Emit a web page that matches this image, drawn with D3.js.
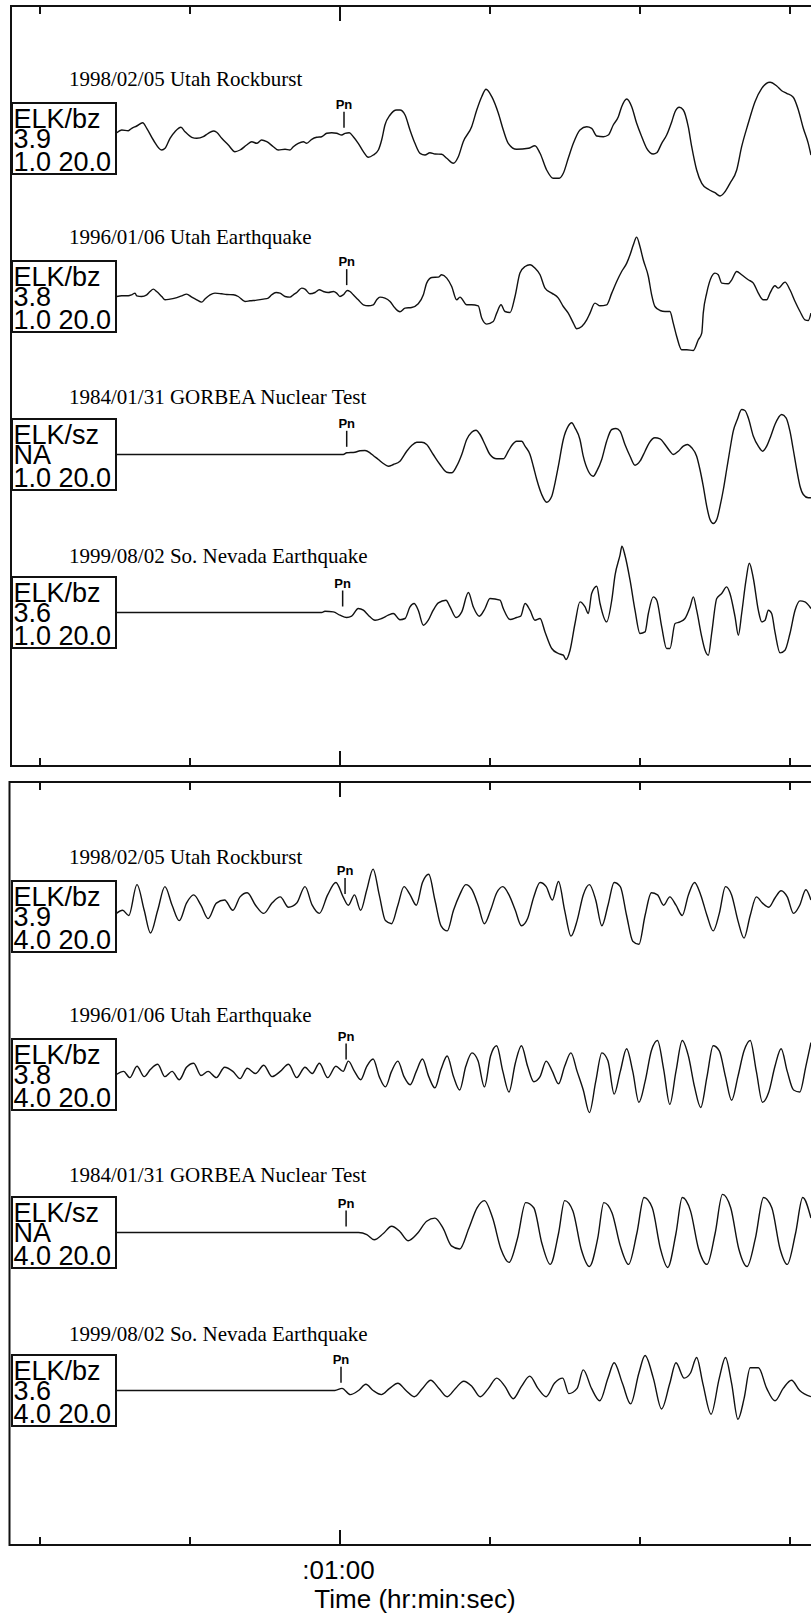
<!DOCTYPE html>
<html>
<head>
<meta charset="utf-8">
<script src="https://cdn.jsdelivr.net/npm/d3@7"></script>
<style>
  body { margin: 0; background: #fff; }
  svg { display: block; }
  .trace { fill: none; stroke: #111; stroke-width: 1.4; stroke-linejoin: round; }
  .frame { fill: none; stroke: #111; stroke-width: 2; }
  .tick line { stroke: #111; stroke-width: 2; }
  .box { fill: #fff; stroke: #111; stroke-width: 2; }
  .boxtxt { font-family: "Liberation Sans", Arial, sans-serif; font-size: 27px; fill: #000; }
  .title { font-family: "Liberation Serif", "Times New Roman", serif; font-size: 21px; fill: #000; }
  .pn { font-family: "Liberation Sans", Arial, sans-serif; font-size: 13px; font-weight: bold; fill: #000; }
  .axlabel { font-family: "Liberation Sans", Arial, sans-serif; font-size: 26px; fill: #000; }
</style>
</head>
<body>
<div id="chart"></div>
<script>
// ---- data: time in seconds after 00:01:00, amplitude in counts ----
const tickTimes = [-2, -1, 0, 1, 2, 3];
const majorTick = 0;
const tickLabel = ":01:00";
const axisTitle = "Time (hr:min:sec)";

const events = ["1998/02/05 Utah Rockburst", "1996/01/06 Utah Earthquake",
                "1984/01/31 GORBEA Nuclear Test", "1999/08/02 So. Nevada Earthquake"];
const stations = ["ELK/bz", "ELK/bz", "ELK/sz", "ELK/bz"];
const magnitudes = ["3.9", "3.8", "NA", "3.6"];
const filterBands = ["1.0 20.0", "4.0 20.0"];
const pnTimesLow = [0.030, 0.048, 0.048, 0.021];
const pnTimesHigh = [0.037, 0.044, 0.044, 0.010];

// 1.0-20.0 Hz band
const rockburstLow = [[-1.485,5.8],[-1.452,8.5],[-1.408,7.8],[-1.385,10.2],[-1.352,12.5],[-1.312,15.8],[-1.285,10.2],[-1.241,-1.5],[-1.185,-11.5],[-1.163,-9.8],[-1.130,0.2],[-1.097,6.8],[-1.057,11.2],[-1.030,6.8],[-0.985,1.2],[-0.952,0.2],[-0.908,1.8],[-0.875,5.2],[-0.841,7.5],[-0.819,6.2],[-0.785,0.2],[-0.741,-6.5],[-0.697,-13.2],[-0.663,-11.5],[-0.619,-6.5],[-0.585,-3.2],[-0.552,-4.8],[-0.519,-1.5],[-0.485,-3.2],[-0.441,-8.2],[-0.408,-11.5],[-0.363,-10.8],[-0.330,-11.5],[-0.308,-8.2],[-0.275,-4.8],[-0.241,-3.2],[-0.219,-4.8],[-0.185,-0.8],[-0.152,1.2],[-0.119,1.8],[-0.085,5.2],[-0.052,5.8],[-0.019,5.2],[0.015,3.5],[0.037,5.2],[0.065,5.8],[0.092,1.8],[0.125,-4.8],[0.159,-13.2],[0.192,-18.8],[0.225,-16.5],[0.259,-11.5],[0.281,-1.5],[0.303,13.5],[0.337,23.5],[0.381,28.5],[0.403,28.5],[0.437,23.5],[0.470,8.5],[0.503,-4.8],[0.537,-14.8],[0.570,-16.5],[0.603,-14.2],[0.637,-15.5],[0.681,-15.8],[0.715,-19.8],[0.759,-24.8],[0.792,-18.2],[0.825,-3.2],[0.881,11.8],[0.915,28.5],[0.948,41.8],[0.977,49.2],[1.015,41.8],[1.059,25.2],[1.092,8.5],[1.125,-4.8],[1.181,-10.8],[1.259,-9.8],[1.303,-7.2],[1.337,-14.8],[1.381,-31.5],[1.425,-39.8],[1.465,-39.8],[1.492,-34.8],[1.525,-19.8],[1.559,-4.8],[1.603,8.5],[1.648,11.8],[1.681,10.2],[1.715,2.5],[1.759,1.8],[1.792,3.5],[1.825,13.5],[1.859,21.8],[1.881,31.8],[1.915,39.5],[1.948,31.8],[1.981,15.2],[2.015,1.8],[2.048,-9.8],[2.092,-15.5],[2.115,-14.2],[2.148,-4.8],[2.181,3.5],[2.215,16.8],[2.237,26.8],[2.265,31.2],[2.292,28.5],[2.325,11.8],[2.348,-8.2],[2.381,-31.5],[2.415,-44.8],[2.459,-50.8],[2.503,-54.2],[2.537,-57.5],[2.570,-53.2],[2.603,-44.8],[2.648,-31.5],[2.681,-8.2],[2.725,15.2],[2.770,36.8],[2.815,50.2],[2.870,56.2],[2.915,52.5],[2.948,47.8],[2.981,45.2],[3.025,41.2],[3.059,28.5],[3.092,10.2],[3.125,-4.8],[3.143,-16.5]];

const quakeLow = [[-1.485,0],[-1.452,0.7],[-1.408,0.7],[-1.385,1.7],[-1.363,3.4],[-1.352,0.7],[-1.319,0],[-1.285,1.7],[-1.263,5],[-1.241,7.4],[-1.219,5],[-1.185,0],[-1.163,-3.3],[-1.130,-2.6],[-1.097,-1.6],[-1.052,0.7],[-1.019,2.4],[-0.985,-0.6],[-0.952,-3.3],[-0.919,-5.6],[-0.897,-2.6],[-0.863,1.7],[-0.830,3.4],[-0.785,2.7],[-0.752,2],[-0.708,1.7],[-0.675,0],[-0.630,-5],[-0.597,-4.3],[-0.552,-3.6],[-0.508,-2.6],[-0.475,-1.6],[-0.452,1.7],[-0.423,4],[-0.397,3.4],[-0.363,0],[-0.330,-0.6],[-0.308,1.7],[-0.285,4],[-0.252,8.4],[-0.230,7.4],[-0.197,2.7],[-0.163,4],[-0.135,6.7],[-0.108,5],[-0.075,4],[-0.041,5],[-0.019,3.4],[0.003,0],[0.025,1.7],[0.052,6],[0.070,5],[0.092,1.7],[0.125,-3.3],[0.159,-8.3],[0.192,-9.3],[0.225,-8.3],[0.248,-3.3],[0.270,-0.6],[0.303,-1.6],[0.337,-5],[0.370,-11.6],[0.403,-15.3],[0.437,-11.6],[0.481,-11],[0.525,-7.3],[0.559,1.7],[0.581,13.4],[0.615,19],[0.659,19.4],[0.681,21.7],[0.715,18.4],[0.748,10],[0.781,-3.3],[0.803,-0.6],[0.848,-8.3],[0.881,-8.3],[0.925,-9.3],[0.948,-21.6],[0.981,-27.6],[1.025,-25],[1.048,-16.6],[1.077,-8.3],[1.103,-15],[1.137,-16],[1.170,0],[1.203,23.4],[1.237,30],[1.270,31.7],[1.303,28.4],[1.337,21.7],[1.370,8.4],[1.415,3.4],[1.459,-1.6],[1.492,-10],[1.525,-16.6],[1.559,-26.6],[1.581,-32.3],[1.615,-30],[1.648,-23.3],[1.670,-16.6],[1.703,-6.6],[1.737,-9.3],[1.781,-8.3],[1.815,3.4],[1.848,15],[1.881,25],[1.915,33.4],[1.937,41.7],[1.959,51.7],[1.981,59.4],[2.003,50],[2.025,36.7],[2.059,20],[2.081,1.7],[2.103,-10],[2.137,-14],[2.170,-15],[2.203,-15],[2.225,-26.6],[2.248,-40],[2.281,-53.3],[2.315,-53.3],[2.359,-54],[2.392,-43.3],[2.415,-36.6],[2.425,-16.6],[2.448,3.4],[2.481,20],[2.503,23.4],[2.525,21.7],[2.548,13.4],[2.592,12.7],[2.615,16.7],[2.648,25],[2.681,21.7],[2.725,16.7],[2.759,13.4],[2.792,3.4],[2.825,-3.3],[2.848,-3.3],[2.870,3.4],[2.903,10.7],[2.925,8.4],[2.970,14.4],[3.003,6.7],[3.037,-5],[3.070,-15],[3.103,-23.3],[3.125,-24],[3.143,-16.6]];

const nuclearLow = [[-1.485,0],[0.025,0],[0.048,1.7],[0.103,2.3],[0.137,3.7],[0.170,4],[0.203,1.7],[0.225,-1],[0.259,-5],[0.292,-9],[0.325,-11.7],[0.359,-10],[0.403,-6.7],[0.448,3.3],[0.481,9],[0.515,12.3],[0.548,12.3],[0.581,10],[0.625,0],[0.670,-10],[0.715,-17.7],[0.748,-18.3],[0.781,-11.7],[0.815,0],[0.848,15],[0.881,22.3],[0.910,24.3],[0.937,20],[0.970,10],[1.003,0],[1.048,-4.3],[1.092,-4.3],[1.125,3.3],[1.148,9],[1.181,13.3],[1.215,13.3],[1.237,8.3],[1.270,0],[1.292,-11.7],[1.315,-25],[1.348,-40],[1.381,-47.7],[1.415,-41.7],[1.437,-28.3],[1.459,-11.7],[1.492,15],[1.525,28.3],[1.548,31.7],[1.570,26.7],[1.603,15],[1.625,-1.7],[1.659,-16.7],[1.692,-21.7],[1.715,-16.7],[1.748,-5],[1.781,13.3],[1.815,25],[1.843,26],[1.870,23.3],[1.903,10],[1.937,-1.7],[1.970,-10.7],[2.003,-6.7],[2.037,3.3],[2.065,11.7],[2.103,16.7],[2.137,15.7],[2.170,10],[2.203,3.3],[2.225,0],[2.259,3.3],[2.292,8.3],[2.319,10],[2.348,6.7],[2.381,-1.7],[2.403,-15],[2.425,-31.7],[2.448,-51.7],[2.470,-65],[2.492,-69],[2.515,-65],[2.537,-51.7],[2.559,-35],[2.581,-15],[2.603,5],[2.625,23.3],[2.652,35],[2.681,45],[2.703,44],[2.725,36.7],[2.759,18.3],[2.792,8.3],[2.821,3.3],[2.848,8.3],[2.875,18.3],[2.903,30],[2.948,40],[2.977,36.7],[3.003,23.3],[3.025,5],[3.048,-15],[3.070,-31.7],[3.092,-40],[3.125,-43.3],[3.143,-43.3]];

const nevadaLow = [[-1.485,0],[-0.119,0],[-0.097,1.3],[-0.041,0.6],[0.003,-2.7],[0.048,-5],[0.081,-3.7],[0.125,4],[0.159,2.3],[0.192,-2.7],[0.237,-7.7],[0.281,-6],[0.325,-2.7],[0.359,-1],[0.403,-7.2],[0.437,-6],[0.470,5.6],[0.497,9],[0.525,2.3],[0.559,-12.7],[0.592,-7.7],[0.625,2.3],[0.659,9.6],[0.710,12.3],[0.737,5.6],[0.777,-5],[0.815,0.6],[0.859,20],[0.892,5.6],[0.932,-3.7],[0.970,4],[1.003,14],[1.070,12.3],[1.092,4],[1.137,-7],[1.181,-5],[1.208,-3.7],[1.237,9],[1.270,2.3],[1.303,-7.7],[1.337,-6],[1.370,-19.4],[1.415,-36],[1.459,-41],[1.492,-42.7],[1.510,-47],[1.537,-37.7],[1.570,-11],[1.603,10.6],[1.637,5.6],[1.659,-1],[1.681,19],[1.715,26.3],[1.737,9],[1.781,-9.4],[1.815,12.3],[1.837,37.3],[1.870,57.3],[1.883,66.3],[1.903,57.3],[1.937,32.3],[1.970,2.3],[2.003,-21],[2.037,-19.4],[2.059,-1],[2.092,15.6],[2.115,12.3],[2.148,-14.4],[2.181,-36],[2.203,-36],[2.237,-11],[2.270,-9.4],[2.303,-6],[2.337,5.6],[2.359,15.6],[2.381,2.3],[2.415,-24.4],[2.437,-37.7],[2.459,-42.7],[2.481,-21],[2.515,14],[2.548,19],[2.581,25.6],[2.603,19],[2.637,-4.4],[2.659,-22.7],[2.681,-1],[2.710,32.3],[2.732,49.3],[2.759,34],[2.792,2.3],[2.815,-9.4],[2.837,-7.7],[2.859,2.3],[2.881,-1],[2.903,-19.4],[2.937,-40.4],[2.970,-37.7],[3.003,-21],[3.037,2.3],[3.070,11.6],[3.103,10.6],[3.143,4]];

// 4.0-20.0 Hz band
const rockburstHigh = [[-1.487,3.1],[-1.446,6.2],[-1.405,1],[-1.350,31.9],[-1.302,6.2],[-1.260,-16.5],[-1.212,6.2],[-1.164,29.9],[-1.116,11.3],[-1.068,-4.1],[-1.020,13.4],[-0.972,21.6],[-0.924,11.3],[-0.876,-2.1],[-0.821,13.4],[-0.766,16.5],[-0.711,6.2],[-0.663,19.6],[-0.615,23.7],[-0.560,11.3],[-0.505,3.1],[-0.450,13.4],[-0.395,19.6],[-0.340,9.3],[-0.285,13.4],[-0.230,29.9],[-0.182,11.3],[-0.134,3.1],[-0.079,21.6],[-0.024,34],[0.024,19.6],[0.059,11.3],[0.100,21.6],[0.141,6.2],[0.182,26.8],[0.224,47.4],[0.265,21.6],[0.306,-4.1],[0.347,-7.2],[0.389,11.3],[0.430,29.9],[0.471,21.6],[0.512,11.3],[0.553,34],[0.595,42.2],[0.636,16.5],[0.677,-9.3],[0.718,-14.4],[0.760,6.2],[0.801,21.6],[0.842,31.9],[0.883,26.8],[0.924,11.3],[0.966,-7.2],[1.007,6.2],[1.048,23.7],[1.089,29.9],[1.130,21.6],[1.172,6.2],[1.213,-9.3],[1.254,-2.1],[1.295,19.6],[1.337,34],[1.378,29.9],[1.419,16.5],[1.460,35],[1.501,6.2],[1.543,-19.6],[1.584,-4.1],[1.625,21.6],[1.666,31.9],[1.708,16.5],[1.749,-9.3],[1.790,11.3],[1.831,34],[1.872,29.9],[1.914,1],[1.955,-24.7],[1.996,-27.8],[2.037,1],[2.079,23.7],[2.120,21.6],[2.161,11.3],[2.202,19.6],[2.243,11.3],[2.285,1],[2.326,21.6],[2.367,34],[2.408,21.6],[2.450,1],[2.491,-14.4],[2.532,3.1],[2.573,29.9],[2.614,21.6],[2.656,-4.1],[2.697,-21.6],[2.738,1],[2.779,19.6],[2.820,13.4],[2.862,9.3],[2.903,18.5],[2.944,25.8],[2.985,19.6],[3.027,3.1],[3.068,11.3],[3.109,26.8],[3.143,16.5]];

const quakeHigh = [[-1.487,0],[-1.439,3.1],[-1.398,-3.1],[-1.350,8.2],[-1.302,-2.1],[-1.260,5.2],[-1.212,10.3],[-1.164,-2.1],[-1.116,3.1],[-1.068,-5.2],[-1.020,7.2],[-0.972,11.3],[-0.924,-1],[-0.876,3.1],[-0.821,-3.1],[-0.766,7.2],[-0.711,3.1],[-0.663,-4.1],[-0.615,6.2],[-0.560,1],[-0.505,9.3],[-0.450,-2.1],[-0.395,3.1],[-0.340,10.3],[-0.285,-3.1],[-0.230,7.2],[-0.182,1],[-0.134,11.3],[-0.079,-3.1],[-0.024,8.2],[0.024,3.1],[0.059,13.4],[0.100,3.1],[0.141,-5.2],[0.182,8.2],[0.224,15.5],[0.265,-2.1],[0.306,-12.4],[0.347,3.1],[0.389,13.4],[0.430,-2.1],[0.471,-10.3],[0.512,3.1],[0.553,15.5],[0.595,-2.1],[0.636,-13.4],[0.677,5.2],[0.718,18.5],[0.760,-2.1],[0.801,-15.5],[0.842,8.2],[0.883,21.6],[0.924,13.4],[0.966,-12.4],[1.007,18.5],[1.048,28.8],[1.089,3.1],[1.130,-17.5],[1.172,11.3],[1.213,28.8],[1.254,8.2],[1.295,-7.2],[1.337,-2.1],[1.378,13.4],[1.419,3.1],[1.460,-9.3],[1.501,8.2],[1.543,21.6],[1.584,3.1],[1.625,-15.5],[1.666,-38.1],[1.708,-7.2],[1.749,21.6],[1.790,13.4],[1.831,-19.6],[1.872,3.1],[1.914,25.8],[1.955,3.1],[1.996,-27.8],[2.037,-7.2],[2.079,23.7],[2.120,34],[2.161,5.2],[2.202,-29.9],[2.243,3.1],[2.285,34],[2.326,18.5],[2.367,-12.4],[2.408,-33],[2.450,-2.1],[2.491,28.8],[2.532,23.7],[2.573,-2.1],[2.614,-25.8],[2.656,-2.1],[2.697,23.7],[2.738,34],[2.779,3.1],[2.820,-27.8],[2.862,-17.5],[2.903,8.2],[2.944,25.8],[2.985,3.1],[3.027,-15.5],[3.068,-17.5],[3.109,8.2],[3.143,31.9]];

const nuclearHigh = [[-1.487,0],[0.127,0],[0.182,-2.1],[0.231,-7.2],[0.292,-1],[0.347,6.2],[0.402,1],[0.457,-8.2],[0.519,-1],[0.581,11.3],[0.636,14.4],[0.691,4.1],[0.746,-13.4],[0.801,-16.5],[0.862,4.1],[0.917,24.7],[0.966,31.9],[1.021,14.4],[1.076,-16.5],[1.130,-29.9],[1.186,-6.2],[1.241,29.9],[1.295,24.7],[1.350,-11.3],[1.405,-31.9],[1.460,-1],[1.501,31.9],[1.556,21.6],[1.611,-16.5],[1.666,-34],[1.721,-6.2],[1.762,29.9],[1.817,19.6],[1.872,-13.4],[1.927,-31.9],[1.982,-1],[2.030,35],[2.085,24.7],[2.140,-16.5],[2.188,-35],[2.243,-1],[2.285,35],[2.340,21.6],[2.394,-16.5],[2.450,-31.9],[2.504,-1],[2.553,38.1],[2.608,24.7],[2.662,-16.5],[2.717,-34],[2.772,-6.2],[2.827,35],[2.882,24.7],[2.937,-16.5],[2.985,-31.9],[3.040,-1],[3.088,35],[3.143,14.4]];

const nevadaHigh = [[-1.487,0],[-0.031,0],[0.017,2.1],[0.072,-4.1],[0.127,0],[0.176,6.2],[0.224,0],[0.279,-4.1],[0.334,2.1],[0.389,7.2],[0.443,0],[0.498,-6.2],[0.553,2.1],[0.608,10.3],[0.663,2.1],[0.718,-6.2],[0.773,2.1],[0.828,9.3],[0.883,4.1],[0.938,-6.2],[0.993,2.1],[1.048,12.4],[1.103,4.1],[1.158,-8.2],[1.213,4.1],[1.268,14.4],[1.323,2.1],[1.378,-6.2],[1.433,7.2],[1.488,12.4],[1.529,-3.1],[1.584,2.1],[1.625,20.6],[1.680,2.1],[1.735,-10.3],[1.790,12.4],[1.831,27.8],[1.886,7.2],[1.941,-13.4],[1.996,17.5],[2.037,35],[2.092,12.4],[2.147,-18.5],[2.202,7.2],[2.243,27.8],[2.298,12.4],[2.340,17.5],[2.381,33],[2.422,7.2],[2.477,-23.7],[2.532,12.4],[2.573,33],[2.614,7.2],[2.656,-28.8],[2.697,-8.2],[2.738,22.7],[2.793,22.7],[2.848,2.1],[2.903,-10.3],[2.958,2.1],[3.013,10.3],[3.068,0],[3.143,-6.2]];

const panelTraces = [
  [rockburstLow, quakeLow, nuclearLow, nevadaLow],
  [rockburstHigh, quakeHigh, nuclearHigh, nevadaHigh]
];
const panelPicks = [pnTimesLow, pnTimesHigh];

// ---- layout ----
const width = 811, height = 1615;
const panels = [
  { top: 6, bottom: 766, left: 11, base: 132.5 },
  { top: 782, bottom: 1545, left: 9.5, base: 134.5 }
];
const traceGap = 158;
const titleGaps = [52.5, 52.5, 50.5, 50];

const svg = d3.select("#chart").append("svg")
  .attr("width", width).attr("height", height);

// time scale: 150 px per second
const x = d3.scaleLinear().domain([-2.19, 3.1433]).range([11, 811]);

const line = d3.line().curve(d3.curveMonotoneX);

panels.forEach(function (p, pi) {
  const g = svg.append("g").attr("class", "panel");

  g.append("rect").attr("class", "frame")
    .attr("x", p.left).attr("y", p.top)
    .attr("width", width + 10 - p.left).attr("height", p.bottom - p.top);

  // ticks along top and bottom edges
  const topAxis = g.append("g").attr("transform", `translate(0,${p.top})`)
    .call(d3.axisBottom(x).tickValues(tickTimes).tickSize(8).tickFormat(""));
  const botAxis = g.append("g").attr("transform", `translate(0,${p.bottom})`)
    .call(d3.axisTop(x).tickValues(tickTimes).tickSize(8).tickFormat(""));
  [topAxis, botAxis].forEach(a => a.select(".domain").remove());
  topAxis.selectAll(".tick").filter(d => d === majorTick).select("line").attr("y2", 15);
  botAxis.selectAll(".tick").filter(d => d === majorTick).select("line").attr("y2", -15);

  panelTraces[pi].forEach(function (tr, k) {
    const base = p.top + p.base + traceGap * k;
    const y = d3.scaleLinear().domain([-100, 100]).range([base + 100, base - 100]);

    line.x(d => x(d[0])).y(d => y(d[1]));
    g.append("path").attr("class", "trace").attr("d", line(tr));

    // label box
    const bx = g.append("g").attr("transform", `translate(0,${base})`);
    bx.append("rect").attr("class", "box")
      .attr("x", 12).attr("y", -35.5).attr("width", 104).attr("height", 71);
    [stations[k], magnitudes[k], filterBands[pi]].forEach(function (s, i) {
      bx.append("text").attr("class", "boxtxt")
        .attr("x", 13.5).attr("y", [-11, 9.5, 32.5][i]).text(s);
    });

    g.append("text").attr("class", "title")
      .attr("x", 69).attr("y", base - titleGaps[k]).text(events[k]);

    // Pn pick
    const pt = panelPicks[pi][k];
    const amp = d3.scaleLinear().domain(tr.map(d => d[0])).range(tr.map(d => d[1]))(pt);
    const yb = Math.min(y(amp), base) - 6;
    g.append("line")
      .attr("x1", x(pt)).attr("x2", x(pt))
      .attr("y1", yb - 16).attr("y2", yb)
      .attr("stroke", "#111").attr("stroke-width", 1.5);
    g.append("text").attr("class", "pn")
      .attr("x", x(pt)).attr("y", yb - 19)
      .attr("text-anchor", "middle").text("Pn");
  });
});

svg.append("text").attr("class", "axlabel")
  .attr("x", x(majorTick) - 1).attr("y", 1579)
  .attr("text-anchor", "middle").text(tickLabel);
svg.append("text").attr("class", "axlabel")
  .attr("x", 415).attr("y", 1608)
  .attr("text-anchor", "middle").text(axisTitle);
</script>
</body>
</html>
